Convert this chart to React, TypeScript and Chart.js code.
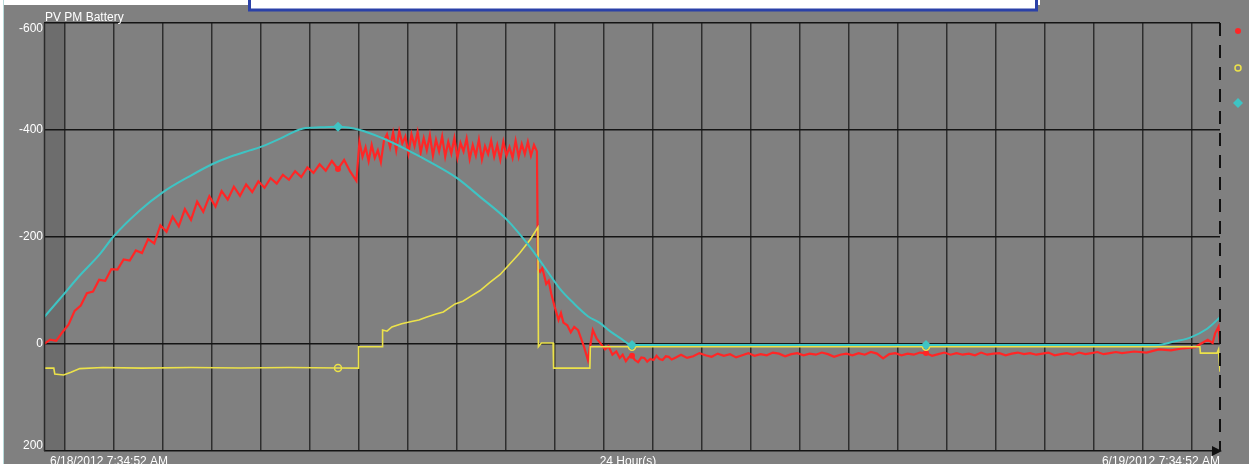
import { useEffect, useRef } from "react";
import { Chart, registerables } from "chart.js";

Chart.register(...registerables);

// ---- data (x = hours since 6/18/2012 7:34:52 AM) ----
const titleText = "PV PM Battery";
const startLabel = "6/18/2012 7:34:52 AM";
const spanLabel = "24 Hour(s)";
const endLabel = "6/19/2012 7:34:52 AM";
const yTickValues = [-600, -400, -200, 0, 200];
const markerHours = [6, 12, 18];

const redPoints: [number, number][] = [
  [0, 0], [0.125, -8], [0.25, -6], [0.375, -22], [0.5, -36], [0.625, -62], [0.75, -72], [0.875, -95],
  [1, -98], [1.125, -120], [1.25, -118], [1.375, -140], [1.5, -139], [1.625, -158], [1.75, -156], [1.875, -175],
  [2, -170], [2.125, -196], [2.25, -188], [2.375, -222], [2.5, -210], [2.625, -238], [2.75, -220], [2.875, -252],
  [3, -232], [3.125, -266], [3.25, -247], [3.375, -276], [3.5, -257], [3.625, -286], [3.75, -270], [3.875, -294],
  [4, -277], [4.125, -298], [4.25, -284], [4.375, -304], [4.5, -292], [4.625, -310], [4.75, -300], [4.875, -316],
  [5, -307], [5.125, -323], [5.25, -312], [5.375, -330], [5.5, -320], [5.625, -336], [5.75, -324], [5.875, -342],
  [6, -327], [6.125, -344], [6.25, -322], [6.375, -305],
  [6.4375, -378], [6.5, -350], [6.5625, -368], [6.625, -342], [6.6875, -372], [6.75, -348], [6.8125, -362], [6.875, -340],
  [6.9375, -380], [7, -392], [7.0625, -368], [7.125, -395], [7.1875, -362], [7.25, -398], [7.3125, -375], [7.375, -388],
  [7.4375, -356], [7.5, -392], [7.5625, -370], [7.625, -396], [7.6875, -358], [7.75, -385], [7.8125, -362], [7.875, -390],
  [7.9375, -352], [8, -382], [8.0625, -360], [8.125, -388], [8.1875, -350], [8.25, -378], [8.3125, -356], [8.375, -385],
  [8.4375, -348], [8.5, -376], [8.5625, -360], [8.625, -384], [8.6875, -346], [8.75, -372], [8.8125, -352], [8.875, -382],
  [8.9375, -345], [9, -370], [9.0625, -355], [9.125, -380], [9.1875, -350], [9.25, -372], [9.3125, -345], [9.375, -378],
  [9.4375, -352], [9.5, -368], [9.5625, -348], [9.625, -380], [9.6875, -350], [9.75, -374], [9.8125, -355], [9.875, -378],
  [9.9375, -352], [10, -372], [10.06, -360],
  [10.08, -140], [10.125, -135], [10.17, -142], [10.25, -112], [10.3, -118], [10.35, -95], [10.42, -70], [10.5, -45],
  [10.55, -58], [10.6, -40], [10.68, -35], [10.75, -22], [10.82, -32], [10.9, -26], [11.02, 5], [11.1, 30],
  [11.2, -26], [11.28, -10], [11.35, -2], [11.45, 10], [11.52, 4], [11.6, 20], [11.68, 14], [11.75, 26],
  [11.81, 20], [11.875, 32], [11.94, 24], [12, 22], [12.06, 30], [12.125, 34], [12.19, 25], [12.25, 26],
  [12.31, 33], [12.375, 28], [12.44, 30], [12.5, 22], [12.56, 28], [12.625, 30], [12.69, 23], [12.75, 24],
  [12.81, 29], [12.875, 26], [13, 20], [13.125, 26], [13.25, 23], [13.375, 17], [13.5, 21], [13.625, 24],
  [13.75, 18], [13.875, 22], [14, 19], [14.125, 25], [14.25, 21], [14.375, 17], [14.5, 22], [14.625, 19],
  [14.75, 21], [14.875, 16], [15, 18], [15.125, 23], [15.25, 19], [15.375, 17], [15.5, 21], [15.625, 18],
  [15.75, 20], [15.875, 16], [16, 19], [16.125, 24], [16.25, 20], [16.375, 18], [16.5, 21], [16.625, 17],
  [16.75, 20], [16.875, 15], [17, 18], [17.125, 27], [17.25, 19], [17.375, 17], [17.5, 21], [17.625, 18],
  [17.75, 20], [17.875, 16], [18, 17], [18.125, 22], [18.25, 19], [18.375, 16], [18.5, 20], [18.625, 17],
  [18.75, 20], [18.875, 18], [19, 21], [19.125, 16], [19.25, 20], [19.375, 18], [19.5, 17], [19.625, 21],
  [19.75, 18], [19.875, 16], [20, 19], [20.125, 17], [20.25, 20], [20.375, 18], [20.5, 16], [20.625, 21],
  [20.75, 19], [20.875, 17], [21, 20], [21.125, 16], [21.25, 19], [21.375, 17], [21.5, 15], [21.625, 19],
  [21.75, 17], [21.875, 15], [22, 17], [22.25, 14], [22.5, 16], [22.75, 10], [23, 12], [23.25, 8],
  [23.5, 6], [23.6, 0], [23.75, -8], [23.85, -2], [23.9, -20], [23.97, -32], [24, 0],
];

const yellowPoints: [number, number][] = [
  [0, 45], [0.2, 45], [0.22, 56], [0.4, 58], [0.55, 53], [0.73, 46], [1.2, 44], [2, 45],
  [3, 44], [4, 45], [5, 44], [6, 45], [6.41, 45], [6.42, 5], [6.9, 5], [6.91, -26],
  [7.0, -24], [7.1, -32], [7.3, -38], [7.5, -42], [7.65, -45], [7.8, -50], [8.0, -56], [8.15, -60],
  [8.39, -75], [8.55, -80], [8.69, -88], [8.9, -100], [9.1, -115], [9.31, -130], [9.51, -150], [9.71, -170],
  [9.92, -195], [10.08, -218], [10.09, 5], [10.15, -2], [10.39, -2], [10.4, 45], [11.14, 45], [11.15, 5],
  [12, 5], [18, 5], [23.59, 5], [23.6, 17], [23.94, 17], [23.97, 10], [24, 52],
];

const cyanPoints: [number, number][] = [
  [0, -50], [0.33, -85], [0.73, -128], [1.14, -168], [1.41, -200], [1.96, -250], [2.43, -284], [2.98, -314],
  [3.43, -336], [3.8, -350], [4.2, -362], [4.41, -368], [4.82, -384], [5.29, -403], [5.63, -405], [6, -406],
  [6.45, -400], [6.9, -385], [7.41, -363], [7.88, -340], [8.43, -310], [8.9, -275], [9.45, -232], [9.92, -181],
  [10.22, -143], [10.53, -103], [10.8, -77], [11.1, -52], [11.35, -39], [11.55, -24], [11.76, -11], [12, 2],
  [18, 2], [22.7, 2], [23.08, -5], [23.39, -12], [23.73, -28], [24, -50],
];

const RED = "#ff2626";
const YELLOW = "#ece24a";
const CYAN = "#3ec4c4";

const toXY = (pts: [number, number][]) => pts.map(([x, y]) => ({ x, y }));
const isMarker = (ctx: any) => ctx.raw && markerHours.includes(ctx.raw.x);

// hour grid lines: first full hour (8:00:00) is 25m08s after the 7:34:52 start
const gridOffset = (25 * 60 + 8) / 3600;
const gridHours = Array.from({ length: 24 }, (_, k) => gridOffset + k);

export default function App() {
  const ref = useRef<HTMLCanvasElement>(null);

  useEffect(() => {
    document.body.style.margin = "0";
    const FONT = '12px "Liberation Sans", Arial, sans-serif';

    const bgPlugin = {
      id: "bg",
      beforeDraw(chart: any) {
        const { ctx, width, height, chartArea } = chart;
        ctx.save();
        ctx.fillStyle = "#808080";
        ctx.fillRect(0, 0, width, height);
        ctx.fillStyle = "#ffffff";
        ctx.fillRect(0, 0, 3, height);
        ctx.fillRect(0, 0, 1040, 5);
        ctx.fillStyle = "#b8dada";
        ctx.fillRect(3, 0, 1, height);
        // partially visible box at top
        ctx.fillStyle = "#ffffff";
        ctx.fillRect(249, 0, 788, 9);
        ctx.strokeStyle = "#2b41a8";
        ctx.lineWidth = 3;
        ctx.strokeRect(249.5, -6, 787, 16);
        // darker band before first hour
        const xs = chart.scales.x;
        const x0 = chartArea.left;
        const x1 = xs.getPixelForValue(gridOffset);
        ctx.fillStyle = "#6d6d6d";
        ctx.fillRect(x0, chartArea.top, x1 - x0, chartArea.bottom - chartArea.top);
        ctx.restore();
      },
    };

    const fgPlugin = {
      id: "fg",
      afterDraw(chart: any) {
        const { ctx, chartArea } = chart;
        const ys = chart.scales.y;
        ctx.save();
        // left border
        ctx.strokeStyle = "#2a2a2a";
        ctx.lineWidth = 1.5;
        ctx.beginPath();
        ctx.moveTo(chartArea.left + 0.5, chartArea.top);
        ctx.lineTo(chartArea.left + 0.5, chartArea.bottom);
        ctx.stroke();
        // dashed right border
        ctx.strokeStyle = "#111111";
        ctx.lineWidth = 2;
        ctx.setLineDash([13, 9]);
        ctx.beginPath();
        ctx.moveTo(chartArea.right, chartArea.top);
        ctx.lineTo(chartArea.right, chartArea.bottom);
        ctx.stroke();
        ctx.setLineDash([]);
        // arrow
        ctx.fillStyle = "#111111";
        ctx.beginPath();
        ctx.moveTo(chartArea.right - 8, chartArea.bottom - 5);
        ctx.lineTo(chartArea.right + 2, chartArea.bottom);
        ctx.lineTo(chartArea.right - 8, chartArea.bottom + 5);
        ctx.closePath();
        ctx.fill();
        // texts
        ctx.font = FONT;
        ctx.fillStyle = "#ffffff";
        ctx.textBaseline = "alphabetic";
        ctx.textAlign = "left";
        ctx.fillText(titleText, 45, 20.5);
        ctx.textAlign = "right";
        ctx.textBaseline = "middle";
        yTickValues.forEach((v) => {
          let y = ys.getPixelForValue(v);
          if (y < chartArea.top + 4) y += 5.5;
          if (y > chartArea.bottom - 4) y -= 5.5;
          ctx.fillText(String(v), 43, y);
        });
        ctx.textBaseline = "alphabetic";
        ctx.textAlign = "left";
        ctx.fillText(startLabel, 50, 465);
        ctx.textAlign = "center";
        ctx.fillText(spanLabel, 628, 465);
        ctx.textAlign = "right";
        ctx.fillText(endLabel, 1220, 465);
        // legend symbols
        const lx = 1238;
        ctx.fillStyle = RED;
        ctx.beginPath();
        ctx.arc(lx, 31, 3, 0, Math.PI * 2);
        ctx.fill();
        ctx.strokeStyle = YELLOW;
        ctx.lineWidth = 1.5;
        ctx.beginPath();
        ctx.arc(lx, 68, 3, 0, Math.PI * 2);
        ctx.stroke();
        ctx.fillStyle = CYAN;
        ctx.beginPath();
        ctx.moveTo(lx, 98);
        ctx.lineTo(lx + 5, 103);
        ctx.lineTo(lx, 108);
        ctx.lineTo(lx - 5, 103);
        ctx.closePath();
        ctx.fill();
        ctx.restore();
      },
    };

    const chart = new Chart(ref.current!, {
      type: "line",
      data: {
        datasets: [
          {
            label: "Battery",
            data: toXY(cyanPoints),
            borderColor: CYAN,
            backgroundColor: CYAN,
            borderWidth: 2,
            cubicInterpolationMode: "monotone",
            pointStyle: "rectRot",
            pointRadius: (c: any) => (isMarker(c) ? 5 : 0),
            pointBorderWidth: 0,
            order: 0,
          },
          {
            label: "PM",
            data: toXY(yellowPoints),
            borderColor: YELLOW,
            backgroundColor: "rgba(0,0,0,0)",
            borderWidth: 1.6,
            pointStyle: "circle",
            pointRadius: (c: any) => (isMarker(c) ? 3.5 : 0),
            pointBorderWidth: 1.5,
            order: 1,
          },
          {
            label: "PV",
            data: toXY(redPoints),
            borderColor: RED,
            backgroundColor: RED,
            borderWidth: 2.2,
            pointStyle: "circle",
            pointRadius: (c: any) => (isMarker(c) ? 3 : 0),
            pointBorderWidth: 0,
            order: 2,
          },
        ],
      },
      options: {
        animation: false,
        responsive: false,
        devicePixelRatio: 1,
        events: [],
        layout: { padding: { top: 23, right: 29, bottom: 0, left: 0 } },
        plugins: { legend: { display: false }, tooltip: { enabled: false }, title: { display: false } },
        elements: { line: { tension: 0 } },
        scales: {
          x: {
            type: "linear",
            min: 0,
            max: 24,
            afterFit: (s: any) => {
              s.height = 13;
            },
            afterBuildTicks: (s: any) => {
              s.ticks = gridHours.map((v) => ({ value: v }));
            },
            ticks: { display: false },
            grid: { color: "#2e2e2e", lineWidth: 1.5, drawTicks: false },
            border: { display: false },
          },
          y: {
            type: "linear",
            min: -600,
            max: 200,
            reverse: true,
            afterFit: (s: any) => {
              s.width = 44;
            },
            afterBuildTicks: (s: any) => {
              s.ticks = yTickValues.map((v) => ({ value: v }));
            },
            ticks: { display: false },
            grid: { color: "#141414", lineWidth: 1.5, drawTicks: false },
            border: { display: false },
          },
        },
      },
      plugins: [bgPlugin, fgPlugin],
    } as any);
    return () => chart.destroy();
  }, []);

  return (
    <div style={{ position: "absolute", left: 0, top: 0, width: 1249, height: 464 }}>
      <canvas ref={ref} width={1249} height={464} style={{ display: "block" }} />
    </div>
  );
}
